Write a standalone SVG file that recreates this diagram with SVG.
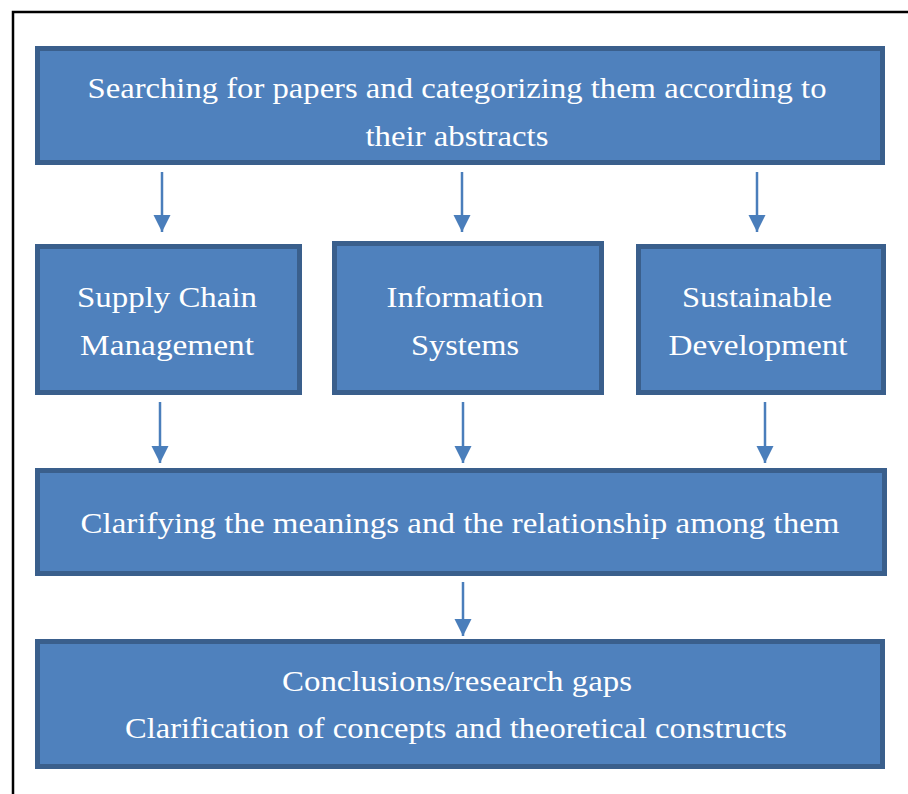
<svg xmlns="http://www.w3.org/2000/svg" width="908" height="794" viewBox="0 0 908 794">
<style>
.box{fill:#4F81BD;stroke:#3A5F8C;stroke-width:5}
.t{font-family:"Liberation Serif","DejaVu Serif",serif;font-size:30px;fill:#FFFFFF;text-anchor:middle}
.c{stroke:#4A7EBB;stroke-width:2.5;fill:none}
</style>
<defs>
<marker id="ah" viewBox="0 0 10 10" refX="10" refY="5" markerWidth="7" markerHeight="7" markerUnits="strokeWidth" orient="auto">
<path d="M0,0 L10,5 L0,10 Z" fill="#4A7EBB"/>
</marker>
</defs>
<rect x="0" y="0" width="908" height="794" fill="#FFFFFF"/>
<path d="M13,800 L13,12 L910,12" fill="none" stroke="#000" stroke-width="2.5"/>
<g id="n1"><rect class="box" x="37.5" y="48.5" width="845" height="114"/>
<text class="t" x="457" y="98" textLength="739" lengthAdjust="spacingAndGlyphs">Searching for papers and categorizing them according to</text>
<text class="t" x="457" y="146" textLength="183" lengthAdjust="spacingAndGlyphs">their abstracts</text></g>
<g id="n2"><rect class="box" x="37.5" y="246.5" width="262" height="146"/>
<text class="t" x="167" y="307" textLength="180" lengthAdjust="spacingAndGlyphs">Supply Chain</text>
<text class="t" x="167" y="355" textLength="174" lengthAdjust="spacingAndGlyphs">Management</text></g>
<g id="n3"><rect class="box" x="334.5" y="243.5" width="267" height="149"/>
<text class="t" x="465" y="307" textLength="157" lengthAdjust="spacingAndGlyphs">Information</text>
<text class="t" x="465" y="355" textLength="108" lengthAdjust="spacingAndGlyphs">Systems</text></g>
<g id="n4"><rect class="box" x="638.5" y="246.5" width="245" height="146"/>
<text class="t" x="757" y="307" textLength="150" lengthAdjust="spacingAndGlyphs">Sustainable</text>
<text class="t" x="758" y="355" textLength="179" lengthAdjust="spacingAndGlyphs">Development</text></g>
<g id="n5"><rect class="box" x="37.5" y="470.5" width="847" height="103"/>
<text class="t" x="460" y="533" textLength="759" lengthAdjust="spacingAndGlyphs">Clarifying the meanings and the relationship among them</text></g>
<g id="n6"><rect class="box" x="37.5" y="641.5" width="845" height="125"/>
<text class="t" x="457" y="691" textLength="350" lengthAdjust="spacingAndGlyphs">Conclusions/research gaps</text>
<text class="t" x="456" y="738" textLength="662" lengthAdjust="spacingAndGlyphs">Clarification of concepts and theoretical constructs</text></g>
<g id="connectors">
<line class="c" x1="162" y1="172" x2="162" y2="232" marker-end="url(#ah)"/>
<line class="c" x1="462" y1="172" x2="462" y2="232" marker-end="url(#ah)"/>
<line class="c" x1="757" y1="172" x2="757" y2="232" marker-end="url(#ah)"/>
<line class="c" x1="160" y1="402" x2="160" y2="463" marker-end="url(#ah)"/>
<line class="c" x1="463" y1="402" x2="463" y2="463" marker-end="url(#ah)"/>
<line class="c" x1="765" y1="402" x2="765" y2="463" marker-end="url(#ah)"/>
<line class="c" x1="463" y1="582" x2="463" y2="636" marker-end="url(#ah)"/>
</g>
</svg>
